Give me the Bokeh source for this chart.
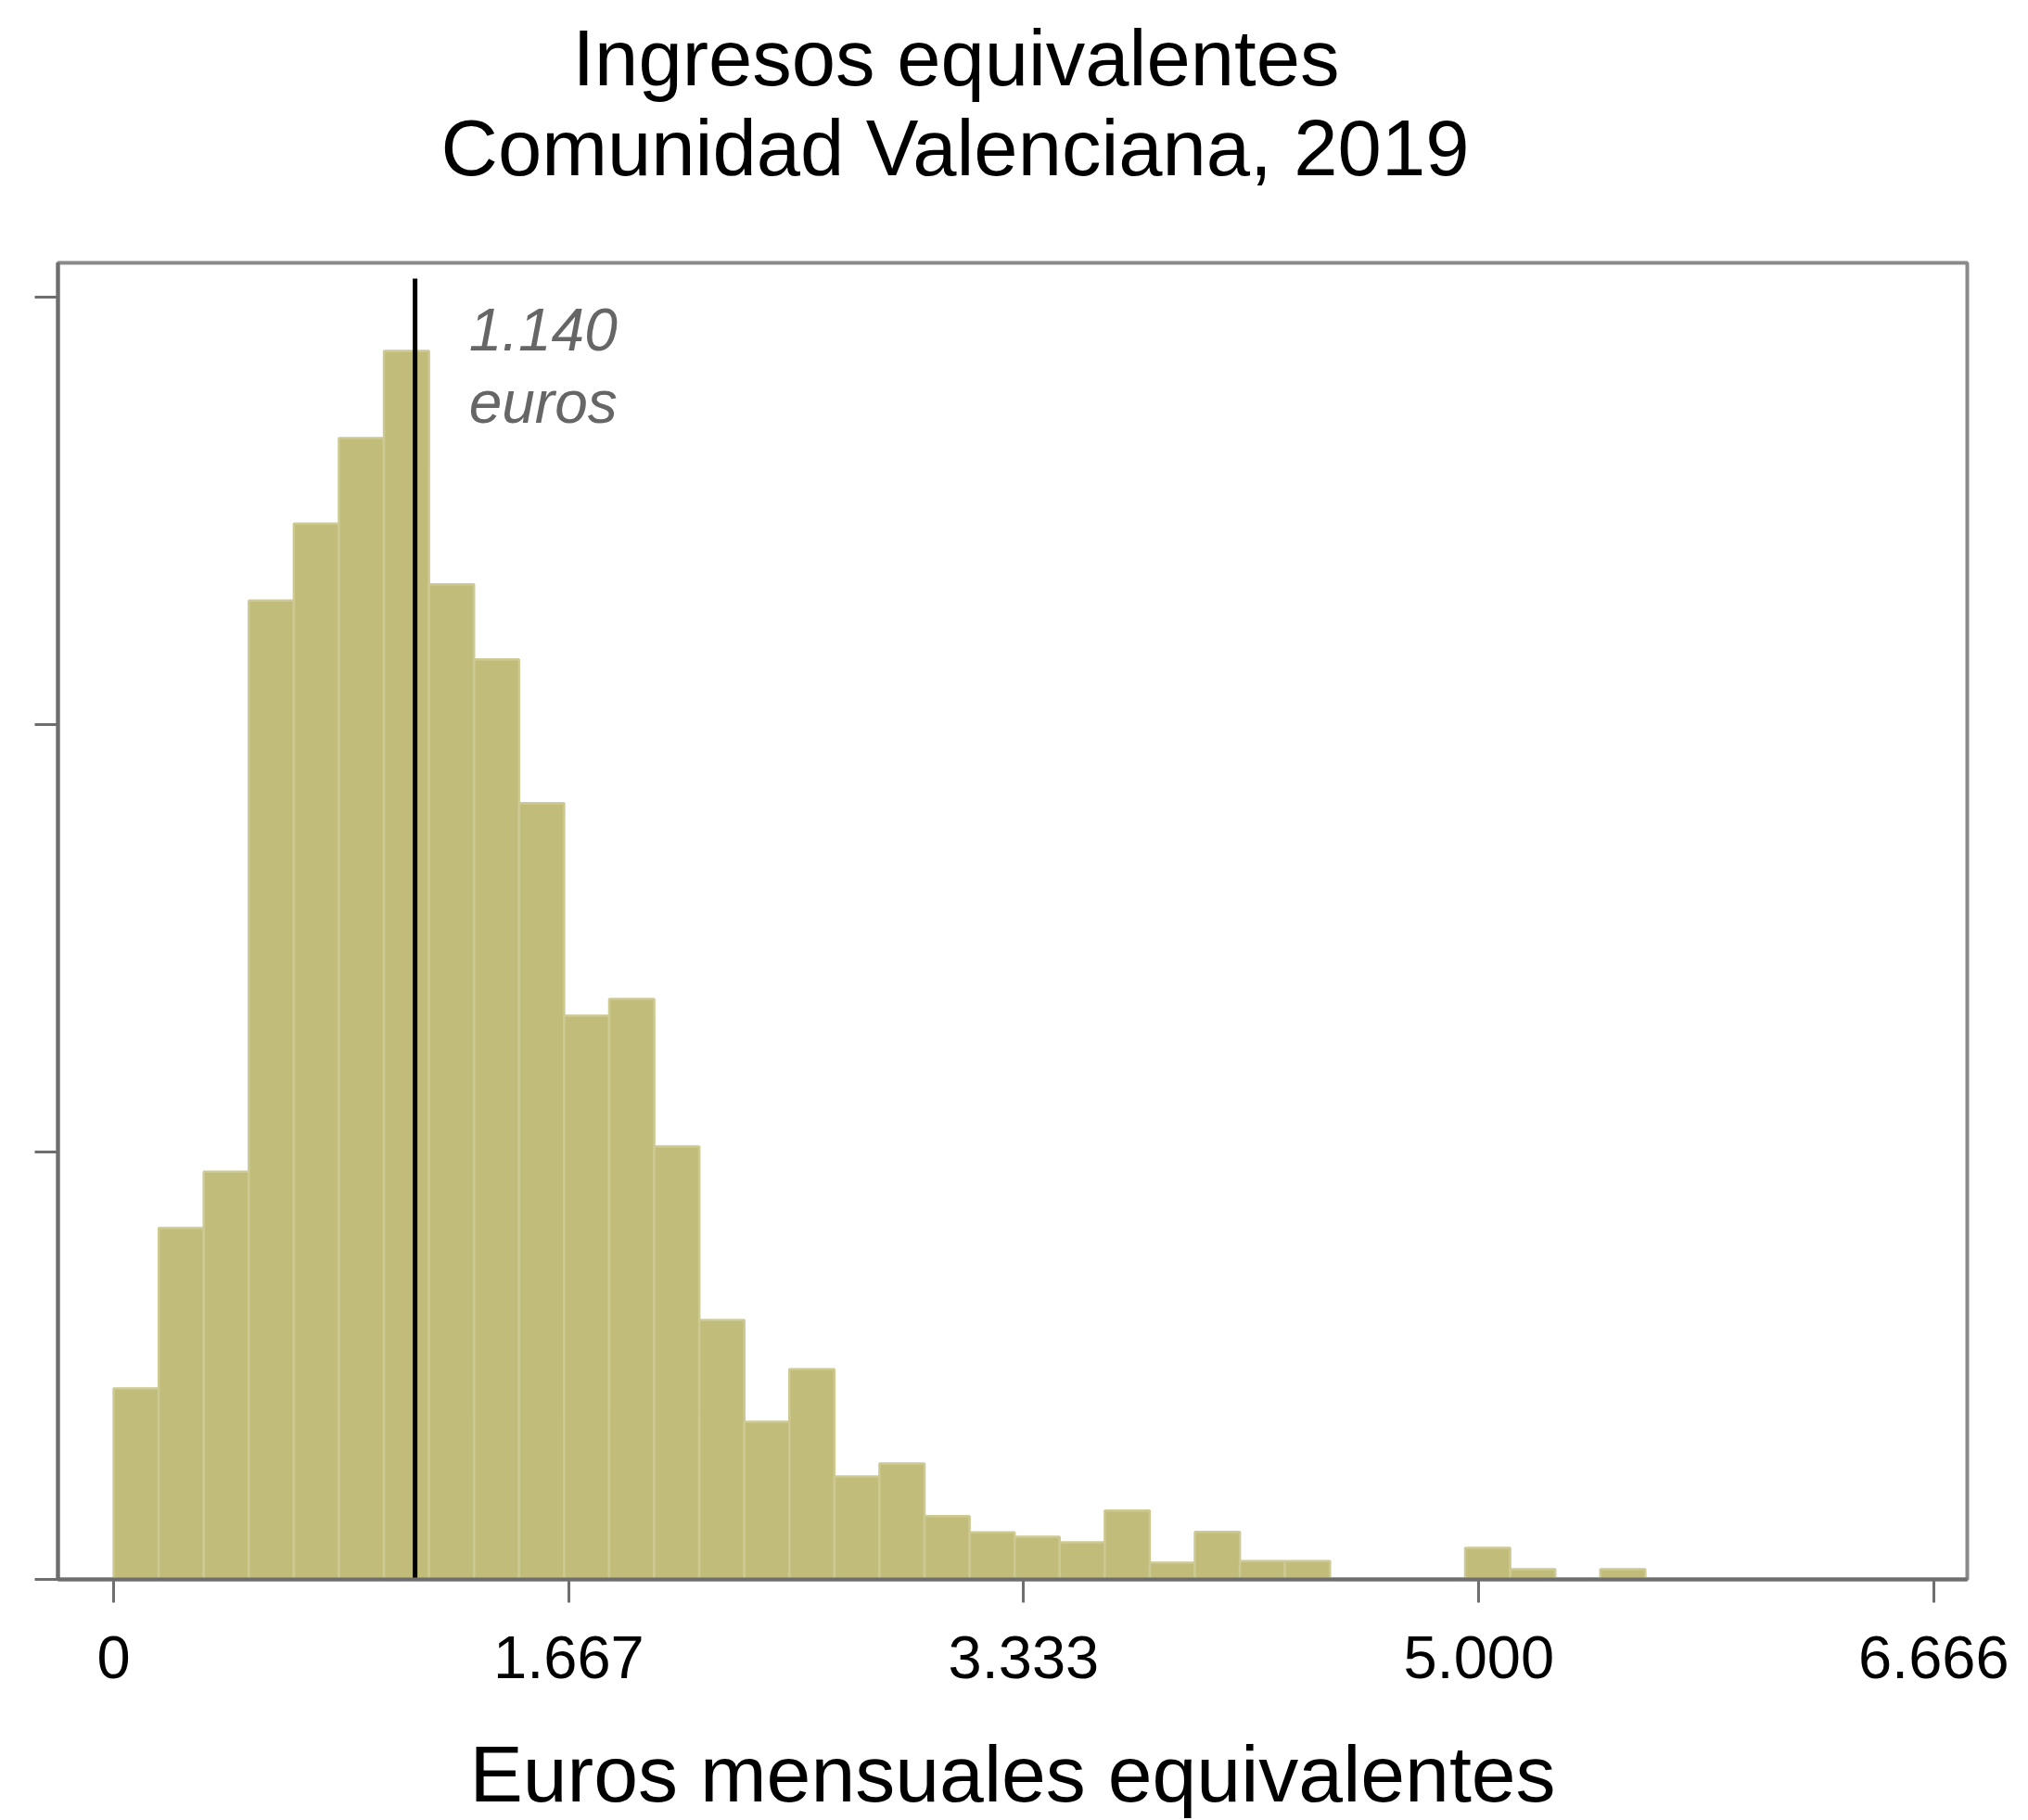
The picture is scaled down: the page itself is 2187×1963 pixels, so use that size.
from bokeh.plotting import figure
from bokeh.models import (Range1d, FixedTicker, Label, ColumnDataSource, Title,
                          LinearAxis)
from bokeh.embed import file_html
from bokeh.resources import INLINE

# ---- data ----
bin_width = 165  # euros per bin
frecuencia = [44.7, 82.2, 95.4, 229.0, 247.0, 267.0, 287.4, 232.8, 215.2, 181.6,
              131.9, 135.8, 101.3, 60.7, 36.9, 49.2, 24.1, 27.1, 14.8, 11.0,
              10.0, 8.7, 16.1, 3.9, 11.1, 4.3, 4.3, 0.0, 0.0, 0.0,
              7.4, 2.4, 0.0, 2.4]
bin_left = [i * bin_width for i in range(len(frecuencia))]
bin_right = [b + bin_width for b in bin_left]

x_tick_values = [0, 1667, 3333, 5000, 6666]
x_tick_labels = ["0", "1.667", "3.333", "5.000", "6.666"]
y_tick_values = [0, 100, 200, 300]

median_line_x = 1104
median_label = ["1.140", "euros"]
title_lines = ["Ingresos equivalentes", "Comunidad Valenciana, 2019"]
x_label = "Euros mensuales equivalentes"

FONT = "Liberation Sans"

p = figure(width=2187, height=1963,
           x_range=Range1d(-204, 6789), y_range=Range1d(0, 308),
           output_backend="svg", toolbar_location=None,
           min_border_left=62, min_border_right=66,
           min_border_top=283, min_border_bottom=260)
p.background_fill_color = "white"
p.border_fill_color = "white"
p.xgrid.visible = False
p.ygrid.visible = False
p.outline_line_color = "#8a8a8a"
p.outline_line_width = 4

src = ColumnDataSource(dict(left=bin_left, right=bin_right, top=frecuencia))
p.quad(left="left", right="right", bottom=0, top="top", source=src,
       fill_color="#C2BC7A", line_color="#CDC992", line_width=2.5)

p.segment(x0=[median_line_x], y0=[0], x1=[median_line_x], y1=[304.3],
          line_color="black", line_width=5)

# x axis
xa = p.xaxis[0]
xa.ticker = FixedTicker(ticks=x_tick_values)
xa.major_label_overrides = dict(zip(x_tick_values, x_tick_labels))
xa.major_tick_out = 25
xa.major_tick_in = 0
xa.minor_tick_line_color = None
xa.major_tick_line_color = "#6e6e6e"
xa.major_tick_line_width = 3
xa.axis_line_color = "#6e6e6e"
xa.axis_line_width = 4
xa.major_label_text_font = FONT
xa.major_label_text_font_size = "65px"
xa.major_label_text_color = "black"
xa.major_label_standoff = 36
xa.axis_label = x_label
xa.axis_label_text_font = FONT
xa.axis_label_text_font_size = "86px"
xa.axis_label_text_font_style = "normal"
xa.axis_label_text_color = "black"
xa.axis_label_standoff = 52

# y axis (ticks only, no labels)
ya = p.yaxis[0]
ya.ticker = FixedTicker(ticks=y_tick_values)
ya.major_label_overrides = {v: "" for v in y_tick_values}
ya.major_tick_out = 25
ya.major_tick_in = 0
ya.minor_tick_line_color = None
ya.major_tick_line_color = "#6e6e6e"
ya.major_tick_line_width = 3
ya.axis_line_color = "#6e6e6e"
ya.axis_line_width = 4
ya.major_label_standoff = 0

# invisible spacer between frame and titles (first "above" item sits nearest the frame)
spacer = LinearAxis(ticker=FixedTicker(ticks=[0]), major_label_overrides={0: ""},
                    major_tick_out=75, major_tick_in=0,
                    minor_tick_out=0, minor_tick_in=0,
                    major_label_standoff=0, axis_line_color=None,
                    major_tick_line_color=None, minor_tick_line_color=None)
p.add_layout(spacer, "above")

p.add_layout(Title(text=title_lines[1], align="left", offset=413,
                   vertical_align="top", standoff=0,
                   text_font=FONT, text_font_size="85px",
                   text_font_style="normal", text_color="black"), "above")
p.add_layout(Title(text=title_lines[0], align="left", offset=555,
                   vertical_align="bottom", standoff=4,
                   text_font=FONT, text_font_size="85px",
                   text_font_style="normal", text_color="black"), "above")

# median annotation
for txt, yv in zip(median_label, [292.4, 275.3]):
    p.add_layout(Label(x=1301, y=yv, text=txt, text_align="left",
                       text_baseline="alphabetic", text_font=FONT,
                       text_font_style="italic",
                       text_font_size="64px", text_color="#666666"))

open("out.html", "w").write(file_html(p, INLINE))
